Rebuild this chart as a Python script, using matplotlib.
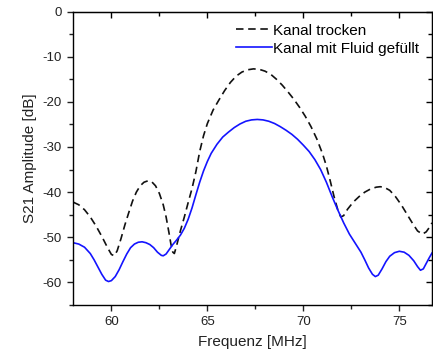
import matplotlib
matplotlib.use("Agg")
import matplotlib.pyplot as plt
from matplotlib.ticker import MultipleLocator

plt.rcParams['font.family'] = ['Liberation Sans', 'DejaVu Sans']
plt.rcParams['axes.unicode_minus'] = False

# Kanal trocken (dashed)
freq_dry = [58.0, 58.3, 58.6, 58.9, 59.2, 59.5, 59.8, 60.0, 60.15, 60.3,
            60.5, 60.7, 60.9, 61.1, 61.3, 61.5, 61.7, 61.9, 62.1, 62.3,
            62.5, 62.7, 62.85, 63.0, 63.1, 63.2, 63.28, 63.4, 63.6, 63.8,
            64.0, 64.2, 64.4, 64.6, 64.8, 65.0, 65.3, 65.6, 65.9, 66.2,
            66.5, 66.8, 67.1, 67.4, 67.7, 68.0, 68.3, 68.6, 68.9, 69.2,
            69.5, 69.8, 70.1, 70.4, 70.7, 71.0, 71.2, 71.4, 71.6, 71.8,
            71.95, 72.1, 72.3, 72.6, 72.9, 73.2, 73.5, 73.8, 74.0, 74.2,
            74.5, 74.8, 75.1, 75.4, 75.7, 75.95, 76.2, 76.4, 76.55, 76.7]
s21_dry = [-42.2, -42.8, -43.9, -45.5, -47.5, -49.8, -52.3, -53.8, -54.1, -53.0,
           -50.3, -47.3, -44.6, -42.0, -40.0, -38.6, -37.8, -37.5, -37.7, -38.6,
           -40.3, -42.8, -45.5, -49.0, -51.5, -53.3, -53.6, -51.8, -48.5, -45.5,
           -42.3, -39.2, -35.5, -31.0, -27.5, -24.8, -21.8, -19.6, -17.5, -15.7,
           -14.3, -13.4, -12.9, -12.7, -12.8, -13.2, -13.9, -15.0, -16.3, -17.8,
           -19.4, -21.2, -23.2, -25.5, -28.2, -31.5, -34.2, -37.5, -41.0, -44.0,
           -45.5, -45.2, -43.8, -42.2, -41.0, -40.0, -39.3, -38.9, -38.8, -38.9,
           -39.6, -41.0, -42.8, -44.9, -47.0, -48.6, -49.3, -48.8, -47.9, -46.8]

# Kanal mit Fluid gefuellt (solid blue)
freq_fluid = [58.0, 58.3, 58.6, 58.9, 59.1, 59.3, 59.5, 59.7, 59.85, 60.0,
              60.2, 60.4, 60.6, 60.8, 61.0, 61.2, 61.4, 61.6, 61.8, 62.0,
              62.2, 62.4, 62.6, 62.7, 62.85, 63.0, 63.2, 63.4, 63.6, 63.8,
              64.0, 64.2, 64.4, 64.6, 64.8, 65.0, 65.2, 65.5, 65.8, 66.1,
              66.4, 66.7, 67.0, 67.3, 67.6, 67.9, 68.2, 68.5, 68.8, 69.1,
              69.4, 69.7, 70.0, 70.3, 70.6, 70.9, 71.2, 71.5, 71.8, 72.1,
              72.4, 72.7, 73.0, 73.2, 73.4, 73.6, 73.75, 73.9, 74.1, 74.3,
              74.5, 74.75, 75.0, 75.25, 75.5, 75.75, 75.95, 76.1, 76.25, 76.4,
              76.55, 76.7]
s21_fluid = [-51.2, -51.5, -52.2, -53.6, -55.0, -56.6, -58.2, -59.5, -59.8, -59.6,
             -58.7, -57.2, -55.4, -53.7, -52.3, -51.5, -51.1, -51.0, -51.2, -51.6,
             -52.3, -53.3, -54.0, -54.1, -53.7, -52.8, -51.6, -50.6, -49.5, -48.0,
             -46.0, -43.5, -40.6, -37.8, -35.3, -33.2, -31.4, -29.4, -27.8, -26.7,
             -25.7, -24.9, -24.3, -24.0, -23.9, -24.0, -24.3, -24.8, -25.5, -26.3,
             -27.2, -28.3, -29.6, -31.0, -32.8, -35.0, -37.8, -41.0, -44.0, -46.8,
             -49.3, -51.3, -53.3, -55.0, -56.8, -58.2, -58.7, -58.4, -57.0, -55.4,
             -54.2, -53.4, -53.1, -53.3, -54.0, -55.2, -56.5, -57.3, -57.0, -55.8,
             -54.6, -53.5]

fig = plt.figure(figsize=(4.33, 3.54), dpi=100)
ax = fig.add_axes([0.1686, 0.1384, 0.829, 0.829])

ax.plot(freq_dry, s21_dry, color='#111111', lw=1.2, ls=(0, (4.5, 2.8)),
        label='Kanal trocken')
ax.plot(freq_fluid, s21_fluid, color='#1414ff', lw=1.2,
        label='Kanal mit Fluid gefüllt')

ax.set_xlim(58, 76.7)
ax.set_ylim(-65, 0)
ax.xaxis.set_major_locator(MultipleLocator(5))
ax.xaxis.set_minor_locator(MultipleLocator(2.5))
ax.yaxis.set_major_locator(MultipleLocator(10))
ax.yaxis.set_minor_locator(MultipleLocator(5))

ax.tick_params(which='both', direction='out', top=False, right=False,
               labelsize=9.5, colors='#222222', width=1)
ax.tick_params(which='major', length=4.5)
ax.tick_params(which='minor', length=3)

# mirrored inward ticks on top and right, Origin style
sec_x = ax.secondary_xaxis('top')
sec_x.xaxis.set_major_locator(MultipleLocator(5))
sec_x.xaxis.set_minor_locator(MultipleLocator(2.5))
sec_x.tick_params(which='both', direction='in', labeltop=False, width=1)
sec_x.tick_params(which='major', length=4.5)
sec_x.tick_params(which='minor', length=3)
sec_y = ax.secondary_yaxis('right')
sec_y.yaxis.set_major_locator(MultipleLocator(10))
sec_y.yaxis.set_minor_locator(MultipleLocator(5))
sec_y.tick_params(which='both', direction='in', labelright=False, width=1)
sec_y.tick_params(which='major', length=4.5)
sec_y.tick_params(which='minor', length=3)

for s in ax.spines.values():
    s.set_linewidth(1)

ax.set_xlabel('Frequenz [MHz]', fontsize=11, color='#222222', labelpad=5)
ax.set_ylabel('S21 Amplitude [dB]', fontsize=11, color='#222222', labelpad=4)

ax.legend(loc='upper right', frameon=False, fontsize=11, handlelength=2.3,
          handletextpad=0.1, labelspacing=0.25, borderaxespad=0.3,
          bbox_to_anchor=(0.994, 0.995))

fig.savefig('out.png', dpi=100)
